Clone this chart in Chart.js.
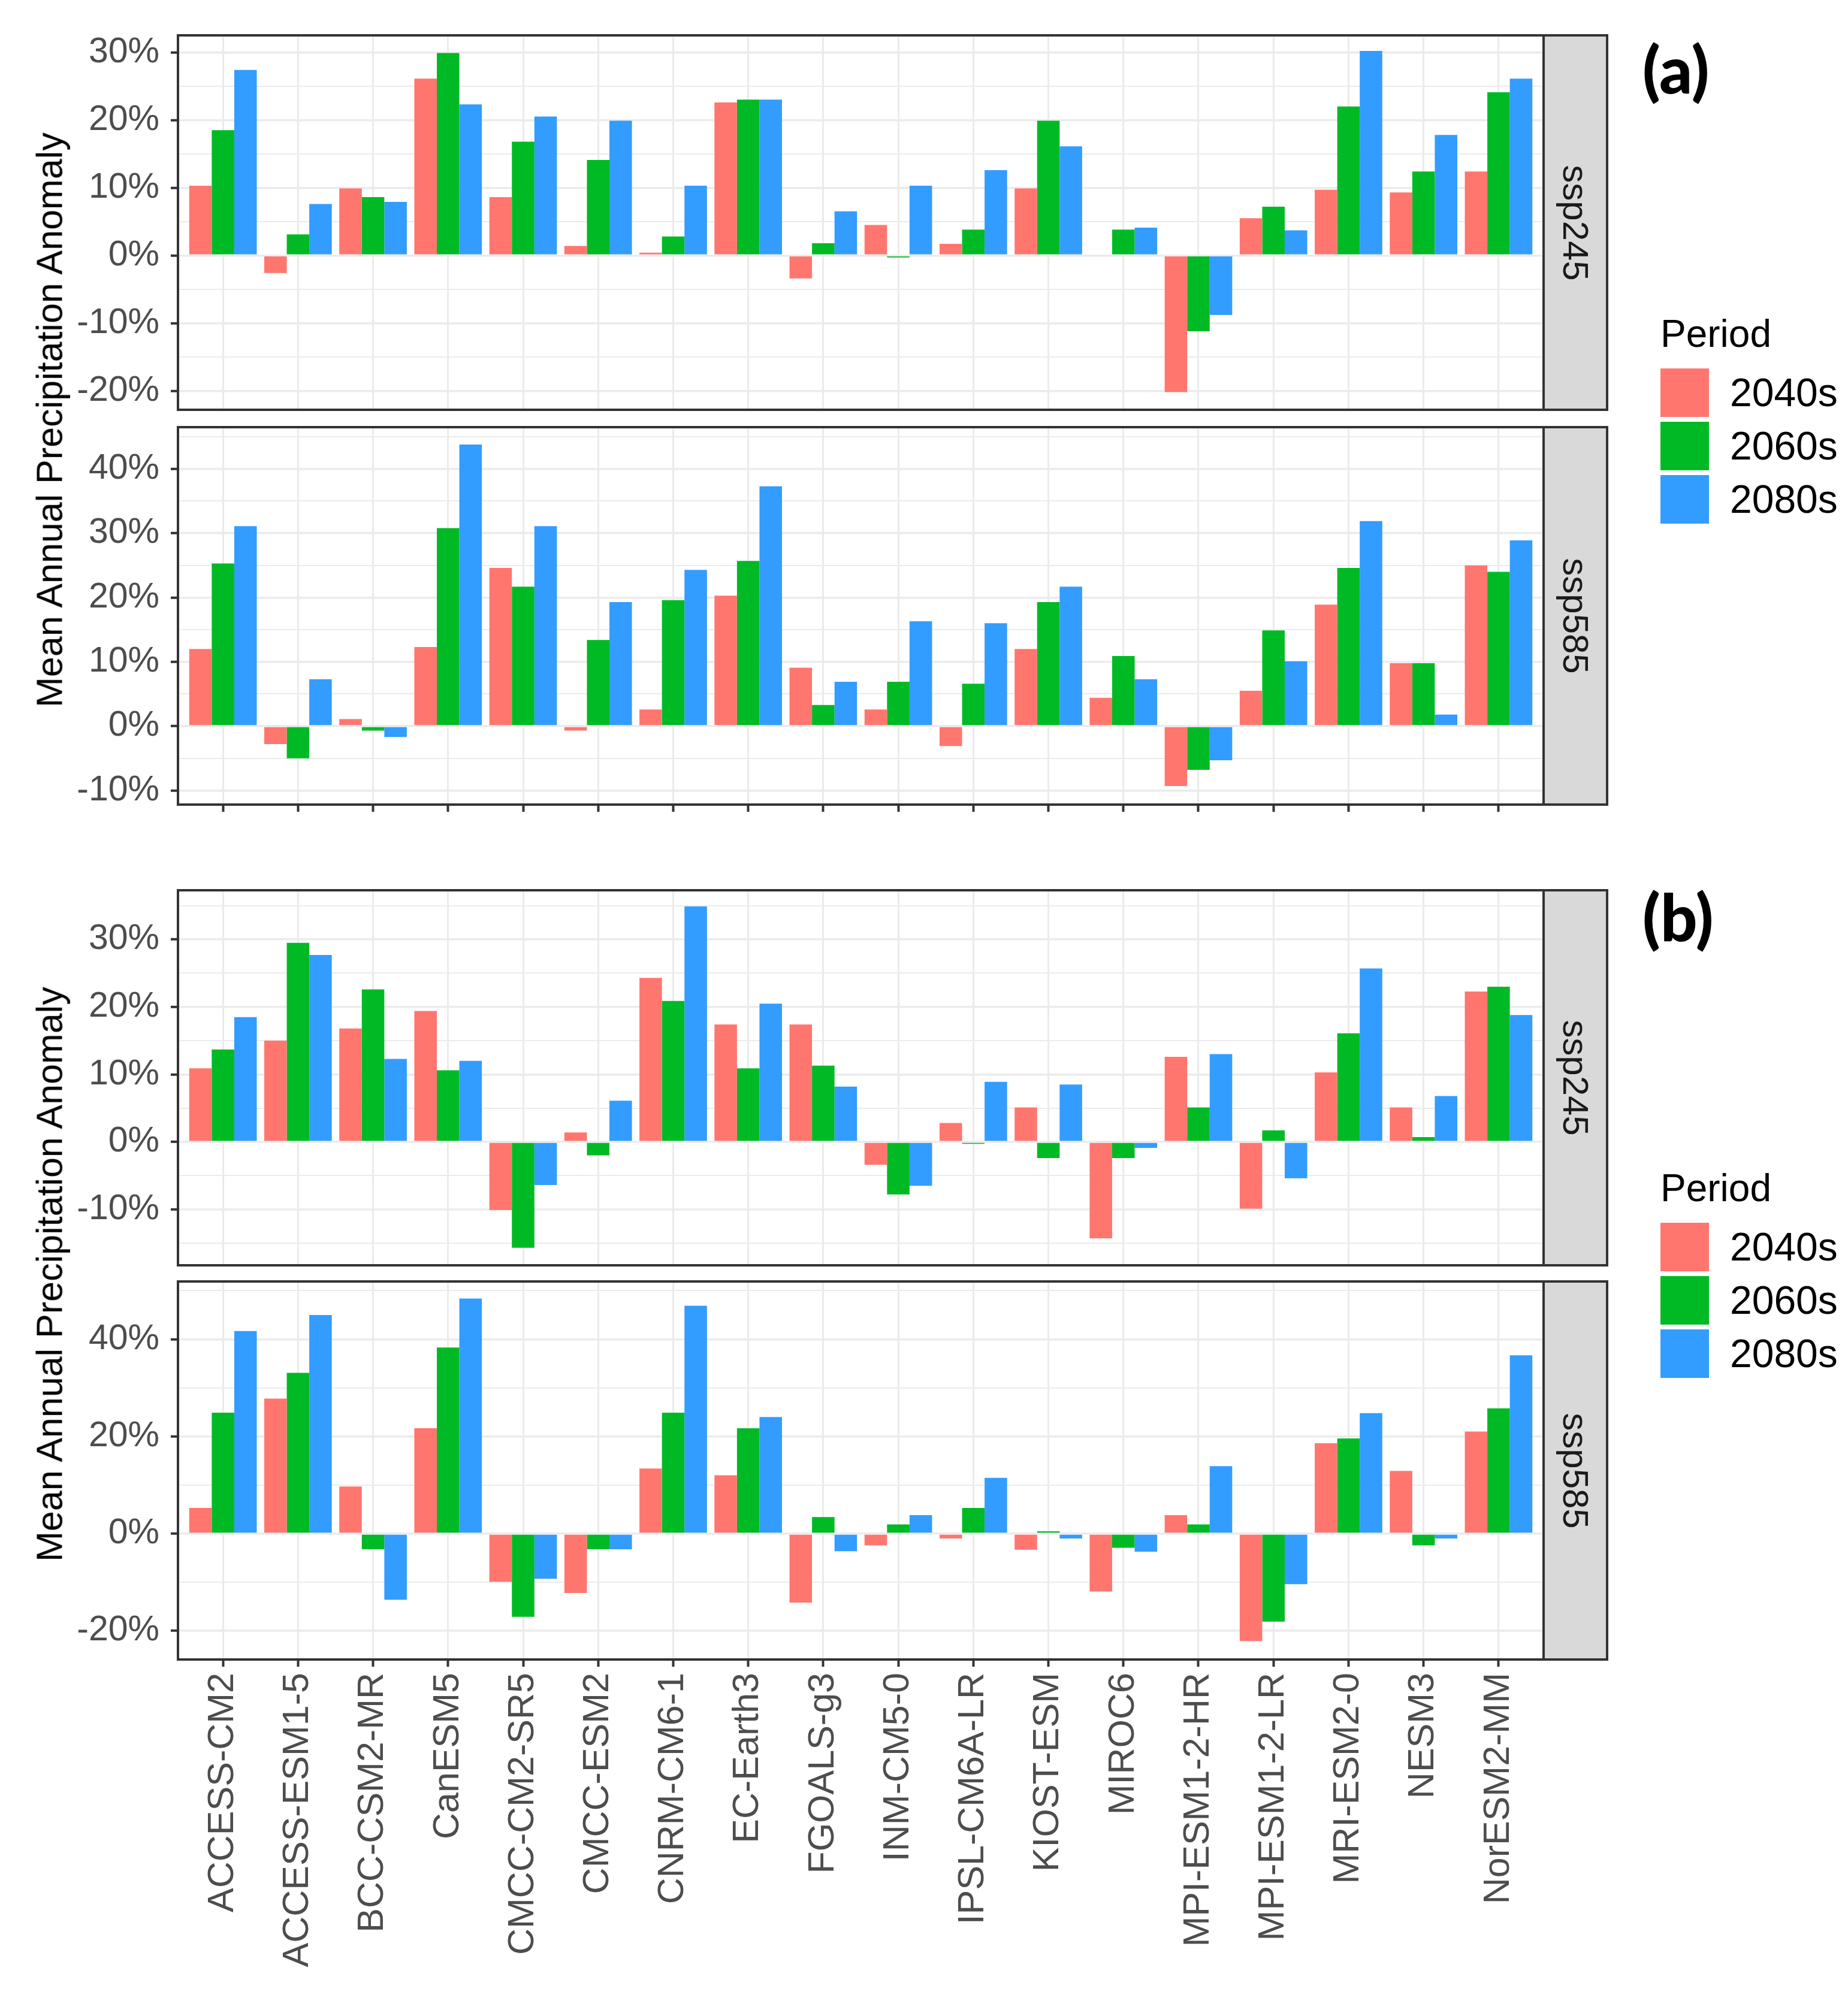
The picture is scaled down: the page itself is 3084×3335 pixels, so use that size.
<!DOCTYPE html>
<html>
<head>
<meta charset="utf-8">
<title>Mean Annual Precipitation Anomaly</title>
<script src="https://cdn.jsdelivr.net/npm/chart.js@4.4.1/dist/chart.umd.min.js"></script>
<style>
  body { margin: 0; background: #ffffff; }
  #figura { position: relative; width: 3084px; height: 3335px; overflow: hidden; background: #ffffff;
            font-family: "Liberation Sans", Arial, sans-serif; }
  canvas { position: absolute; left: 0; }
  .strip { position: absolute; left: 2574px; width: 110px; background: #d9d9d9;
           border: 4px solid #333333; box-sizing: border-box; }
  .strip span { position: absolute; left: 50%; top: 50%; transform: translate(-50%, -50%) rotate(90deg);
                font-size: 60px; line-height: 1; color: #1a1a1a; white-space: nowrap; }
  .ytitulo { position: absolute; left: 83px; transform: translate(-50%, -50%) rotate(-90deg);
             font-size: 61px; line-height: 1; color: #000000; white-space: nowrap; }
  .letra { position: absolute; left: 2741px; font-family: Lato, "Open Sans", sans-serif; font-weight: 900;
           font-size: 108px; line-height: 108px; color: #000000; }
  .leyenda { position: absolute; left: 2771px; width: 300px; height: 360px; }
  .leyenda .tit { position: absolute; left: 0; top: 0; font-size: 64px; line-height: 64px; color: #000000; }
  .leyenda .caja { position: absolute; left: 0; width: 81px; height: 81px; }
  .leyenda .txt { position: absolute; left: 116px; font-size: 66px; line-height: 81px; color: #000000; }
</style>
</head>
<body>
<div id="figura">
  <canvas id="a245" width="2590" height="645" style="top:49px"></canvas>
  <canvas id="a585" width="2590" height="664" style="top:703px"></canvas>
  <canvas id="b245" width="2590" height="646" style="top:1476px"></canvas>
  <canvas id="b585" width="2590" height="1191" style="top:2129px"></canvas>

  <div class="strip" style="top:57px;height:629px"><span>ssp245</span></div>
  <div class="strip" style="top:711px;height:634px"><span>ssp585</span></div>
  <div class="strip" style="top:1484px;height:630px"><span>ssp245</span></div>
  <div class="strip" style="top:2137px;height:635px"><span>ssp585</span></div>

  <div class="ytitulo" style="top:701px">Mean Annual Precipitation Anomaly</div>
  <div class="ytitulo" style="top:2127px">Mean Annual Precipitation Anomaly</div>

  <div class="letra" style="top:60px">(a)</div>
  <div class="letra" style="top:1475px">(b)</div>

  <div class="leyenda" id="leyendaA" style="top:525px"></div>
  <div class="leyenda" id="leyendaB" style="top:1951px"></div>
</div>
<script>
Chart.defaults.font.family = "'Liberation Sans', Arial, sans-serif";
Chart.defaults.color = '#4d4d4d';

var modelos = ['ACCESS-CM2', 'ACCESS-ESM1-5', 'BCC-CSM2-MR', 'CanESM5', 'CMCC-CM2-SR5', 'CMCC-ESM2',
               'CNRM-CM6-1', 'EC-Earth3', 'FGOALS-g3', 'INM-CM5-0', 'IPSL-CM6A-LR', 'KIOST-ESM',
               'MIROC6', 'MPI-ESM1-2-HR', 'MPI-ESM1-2-LR', 'MRI-ESM2-0', 'NESM3', 'NorESM2-MM'];
var periodos = ['2040s', '2060s', '2080s'];
var colores = ['#ff766f', '#00ba25', '#339cff'];

// (a) ssp245
var a245_2040s = [10.3, -2.6, 9.9, 26.1, 8.6, 1.4, 0.4, 22.6, -3.4, 4.5, 1.7, 9.9, 0, -20.2, 5.5, 9.7, 9.3, 12.4];
var a245_2060s = [18.5, 3.1, 8.6, 29.9, 16.8, 14.1, 2.8, 23.0, 1.8, -0.3, 3.8, 19.9, 3.8, -11.2, 7.2, 22.0, 12.4, 24.1];
var a245_2080s = [27.4, 7.6, 7.9, 22.3, 20.5, 19.9, 10.3, 23.0, 6.5, 10.3, 12.6, 16.1, 4.1, -8.8, 3.7, 30.2, 17.8, 26.1];
// (a) ssp585
var a585_2040s = [12.0, -2.8, 1.1, 12.3, 24.6, -0.7, 2.6, 20.3, 9.1, 2.6, -3.1, 12.0, 4.4, -9.3, 5.5, 18.9, 9.8, 25.0];
var a585_2060s = [25.3, -5.0, -0.7, 30.8, 21.7, 13.4, 19.6, 25.7, 3.3, 6.9, 6.6, 19.3, 10.9, -6.8, 14.9, 24.6, 9.8, 24.0];
var a585_2080s = [31.1, 7.3, -1.7, 43.8, 31.1, 19.3, 24.3, 37.3, 6.9, 16.3, 16.0, 21.7, 7.3, -5.3, 10.1, 31.9, 1.8, 28.9];
// (b) ssp245
var b245_2040s = [10.9, 15.0, 16.8, 19.4, -10.1, 1.4, 24.3, 17.4, 17.4, -3.4, 2.8, 5.1, -14.3, 12.6, -9.9, 10.3, 5.1, 22.3];
var b245_2060s = [13.7, 29.5, 22.6, 10.6, -15.7, -2.0, 20.9, 10.9, 11.3, -7.8, -0.3, -2.4, -2.4, 5.1, 1.7, 16.1, 0.7, 23.0];
var b245_2080s = [18.5, 27.7, 12.3, 12.0, -6.4, 6.1, 34.9, 20.5, 8.2, -6.5, 8.9, 8.5, -0.9, 13.0, -5.4, 25.7, 6.8, 18.8];
// (b) ssp585
var b585_2040s = [5.3, 27.8, 9.7, 21.7, -9.9, -12.2, 13.4, 12.0, -14.2, -2.4, -1.0, -3.3, -11.9, 3.8, -22.1, 18.6, 12.9, 21.0];
var b585_2060s = [24.9, 33.1, -3.2, 38.3, -17.1, -3.2, 24.9, 21.7, 3.4, 1.9, 5.3, 0.5, -2.9, 1.9, -18.1, 19.6, -2.4, 25.8];
var b585_2080s = [41.7, 45.0, -13.6, 48.4, -9.3, -3.2, 46.9, 24.0, -3.6, 3.8, 11.5, -1.0, -3.7, 13.9, -10.4, 24.8, -1.0, 36.7];

// marcas del eje y (mayores) y limites de cada panel
var ticksA245 = [-20, -10, 0, 10, 20, 30];
var ticksA585 = [-10, 0, 10, 20, 30, 40];
var ticksB245 = [-10, 0, 10, 20, 30];
var ticksB585 = [-20, 0, 20, 40];
var limA245 = [-22.8, 32.5];
var limA585 = [-12.2, 46.5];
var limB245 = [-18.3, 37.3];
var limB585 = [-25.9, 51.9];

// alto del eje x: 0 = sin eje, 1 = solo marcas, 2 = marcas y nombres
var altoEjeX = [0, 14, 540];

// marco gris oscuro alrededor del panel
var marco = {
    id: 'marco',
    afterDraw: function (chart) {
        var a = chart.chartArea;
        var ctx = chart.ctx;
        ctx.save();
        ctx.strokeStyle = '#333333';
        ctx.lineWidth = 4;
        ctx.strokeRect(a.left, a.top, a.right - a.left, a.bottom - a.top);
        ctx.restore();
    }
};

// sin relleno extra que encoja el area del panel
function sinRelleno(s) {
    s.paddingTop = 0;
    s.paddingBottom = 0;
    s.paddingLeft = 0;
    s.paddingRight = 0;
}

function dibujarPanel(id, series, mayores, lim, ejeX) {
    var paso = mayores[1] - mayores[0];
    var todas = mayores.slice();
    mayores.forEach(function (v) {
        [v - paso / 2, v + paso / 2].forEach(function (m) {
            if (m > lim[0] && m < lim[1] && todas.indexOf(m) < 0) todas.push(m);
        });
    });
    todas.sort(function (p, q) { return p - q; });
    var esMayor = function (c) { return c.tick && mayores.indexOf(c.tick.value) >= 0; };

    return new Chart(document.getElementById(id).getContext('2d'), {
        type: 'bar',
        data: {
            datasets: series.map(function (s, k) {
                return {
                    label: periodos[k],
                    data: s.map(function (v, i) { return { x: i, y: v }; }),
                    backgroundColor: colores[k],
                    borderWidth: 0,
                    barPercentage: 1,
                    categoryPercentage: 0.9
                };
            })
        },
        options: {
            responsive: false,
            animation: false,
            devicePixelRatio: 1,
            layout: { padding: { top: 10, right: 14, bottom: 10, left: 0 } },
            plugins: { legend: { display: false }, tooltip: { enabled: false } },
            scales: {
                x: {
                    type: 'linear',
                    min: -0.6,
                    max: modelos.length - 0.4,
                    offset: false,
                    afterBuildTicks: function (s) {
                        s.ticks = modelos.map(function (m, i) { return { value: i }; });
                    },
                    afterFit: function (s) {
                        s.height = altoEjeX[ejeX];
                        sinRelleno(s);
                    },
                    grid: {
                        offset: false,
                        color: '#ebebeb',
                        lineWidth: 3,
                        drawTicks: ejeX > 0,
                        tickLength: 12,
                        tickWidth: 4,
                        tickColor: '#333333'
                    },
                    border: { display: false },
                    ticks: {
                        display: ejeX === 2,
                        autoSkip: false,
                        minRotation: 90,
                        maxRotation: 90,
                        padding: 10,
                        color: '#4d4d4d',
                        font: { size: 61 },
                        callback: function (v) { return modelos[v]; }
                    }
                },
                y: {
                    min: lim[0],
                    max: lim[1],
                    afterBuildTicks: function (s) {
                        s.ticks = todas.map(function (v) { return { value: v }; });
                    },
                    afterFit: function (s) {
                        s.width = 297;
                        sinRelleno(s);
                    },
                    grid: {
                        color: '#ebebeb',
                        lineWidth: function (c) { return esMayor(c) ? 3.5 : 2; },
                        tickLength: 12,
                        tickWidth: 4,
                        tickColor: function (c) { return esMayor(c) ? '#333333' : 'rgba(0,0,0,0)'; }
                    },
                    border: { display: false },
                    ticks: {
                        autoSkip: false,
                        padding: 19,
                        color: '#4d4d4d',
                        font: { size: 59 },
                        callback: function (v) { return mayores.indexOf(v) >= 0 ? v + '%' : ''; }
                    }
                }
            }
        },
        plugins: [marco]
    });
}

var graficoA245 = dibujarPanel('a245', [a245_2040s, a245_2060s, a245_2080s], ticksA245, limA245, 0);
var graficoA585 = dibujarPanel('a585', [a585_2040s, a585_2060s, a585_2080s], ticksA585, limA585, 1);
var graficoB245 = dibujarPanel('b245', [b245_2040s, b245_2060s, b245_2080s], ticksB245, limB245, 0);
var graficoB585 = dibujarPanel('b585', [b585_2040s, b585_2060s, b585_2080s], ticksB585, limB585, 2);

// leyendas "Period"
['leyendaA', 'leyendaB'].forEach(function (id) {
    var cont = document.getElementById(id);
    var html = '<div class="tit">Period</div>';
    periodos.forEach(function (p, k) {
        var y = 90 + k * 89;
        html += '<div class="caja" style="top:' + y + 'px;background:' + colores[k] + '"></div>';
        html += '<div class="txt" style="top:' + y + 'px">' + p + '</div>';
    });
    cont.innerHTML = html;
});
</script>
</body>
</html>
